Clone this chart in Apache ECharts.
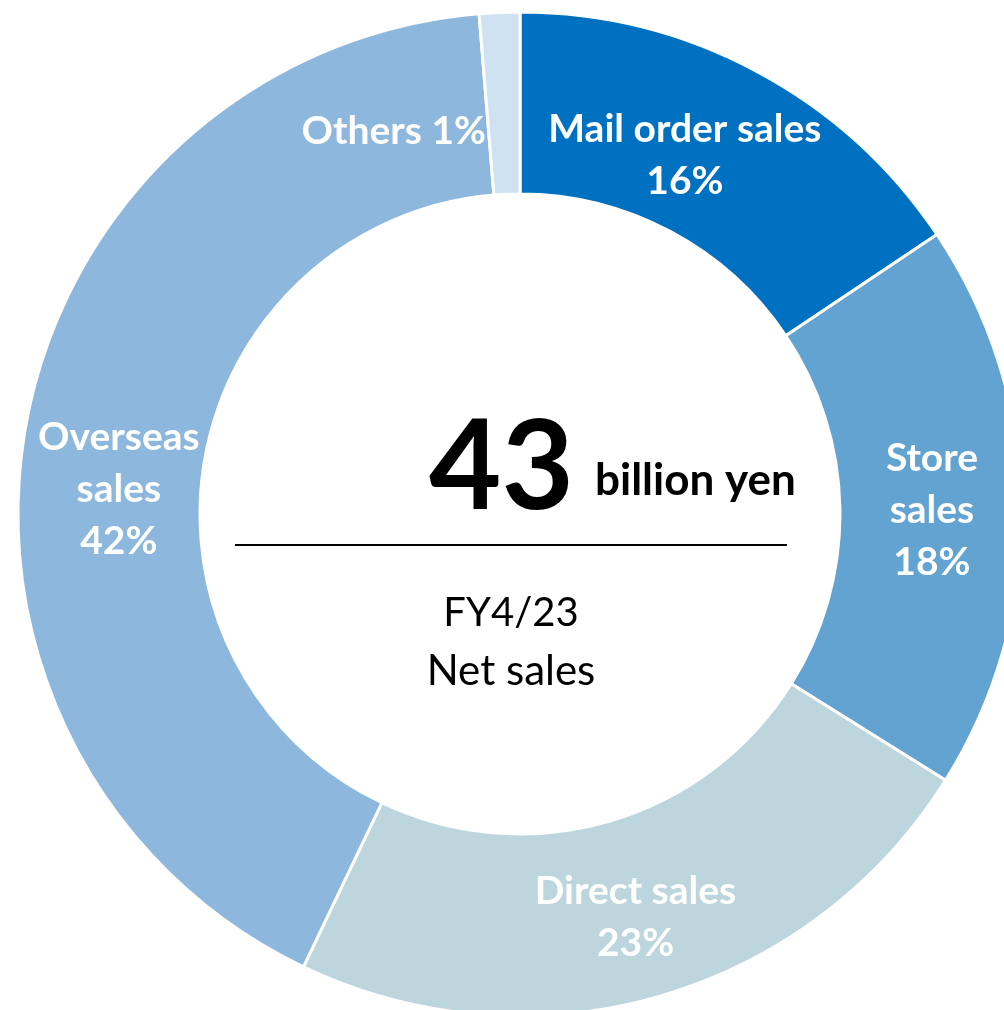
<!DOCTYPE html>
<html>
<head>
<meta charset="utf-8">
<script src="https://cdn.jsdelivr.net/npm/echarts@6/dist/echarts.min.js"></script>
<style>
  html, body { margin: 0; padding: 0; background: #fff; }
  #main { width: 1004px; height: 1010px; }
</style>
</head>
<body>
<div id="main"></div>
<script>
// 売上構成 (FY4/23)
var names = ['Mail order sales', 'Store\nsales', 'Direct sales', 'Overseas\nsales', 'Others'];
var shares = [15.6, 18.3, 23.2, 41.6, 1.3];
var colors = ['#0070C0', '#62A3D2', '#BDD5DC', '#8DB7DD', '#CFE2F2'];
var total = '43';
var unit = 'billion yen';
var caption = ['FY4/23', 'Net sales'];

var font = 'Lato, "Open Sans", sans-serif';

// ラベル位置の微調整
var labelShift = [[-30, 7], [-2, 3], [0, 6], [6, 50], null];

var chart = echarts.init(document.getElementById('main'));

var option = {
  animation: false,
  series: [{
    type: 'pie',
    center: [520, 514],
    radius: [320, 502],
    startAngle: 90,
    clockwise: true,
    avoidLabelOverlap: false,
    itemStyle: {
      borderColor: '#fff',
      borderWidth: 3
    },
    label: {
      show: true,
      position: 'inside',
      color: '#fff',
      fontFamily: font,
      fontWeight: 'bold',
      fontSize: 39,
      lineHeight: 52,
      formatter: function (p) {
        var pct = Math.round(p.percent) + '%';
        if (p.dataIndex === 4) return p.name + ' ' + pct;
        return p.name + '\n' + pct;
      }
    },
    labelLine: { show: false },
    labelLayout: function (p) {
      if (p.dataIndex === 4) {
        return { x: 486, y: 131, align: 'right', verticalAlign: 'middle' };
      }
      var s = labelShift[p.dataIndex];
      return { dx: s[0], dy: s[1] };
    },
    emphasis: { disabled: true },
    data: names.map(function (n, i) {
      return { name: n, value: shares[i], itemStyle: { color: colors[i] } };
    })
  }],
  graphic: [
    {
      type: 'text',
      left: 429, top: 406,
      style: { text: total, font: 'bold 125px ' + font, fill: '#000' }
    },
    {
      type: 'text',
      left: 595, top: 459,
      style: { text: unit, font: 'bold 44px ' + font, fill: '#000' }
    },
    {
      type: 'line',
      shape: { x1: 235, y1: 545, x2: 787, y2: 545 },
      style: { stroke: '#000', lineWidth: 2 }
    },
    {
      type: 'text',
      x: 511, y: 613,
      style: { text: caption[0], font: '40px ' + font, fill: '#000', align: 'center', verticalAlign: 'middle' }
    },
    {
      type: 'text',
      x: 511, y: 671,
      style: { text: caption[1], font: '42px ' + font, fill: '#000', align: 'center', verticalAlign: 'middle' }
    }
  ]
};

chart.setOption(option);
</script>
</body>
</html>
